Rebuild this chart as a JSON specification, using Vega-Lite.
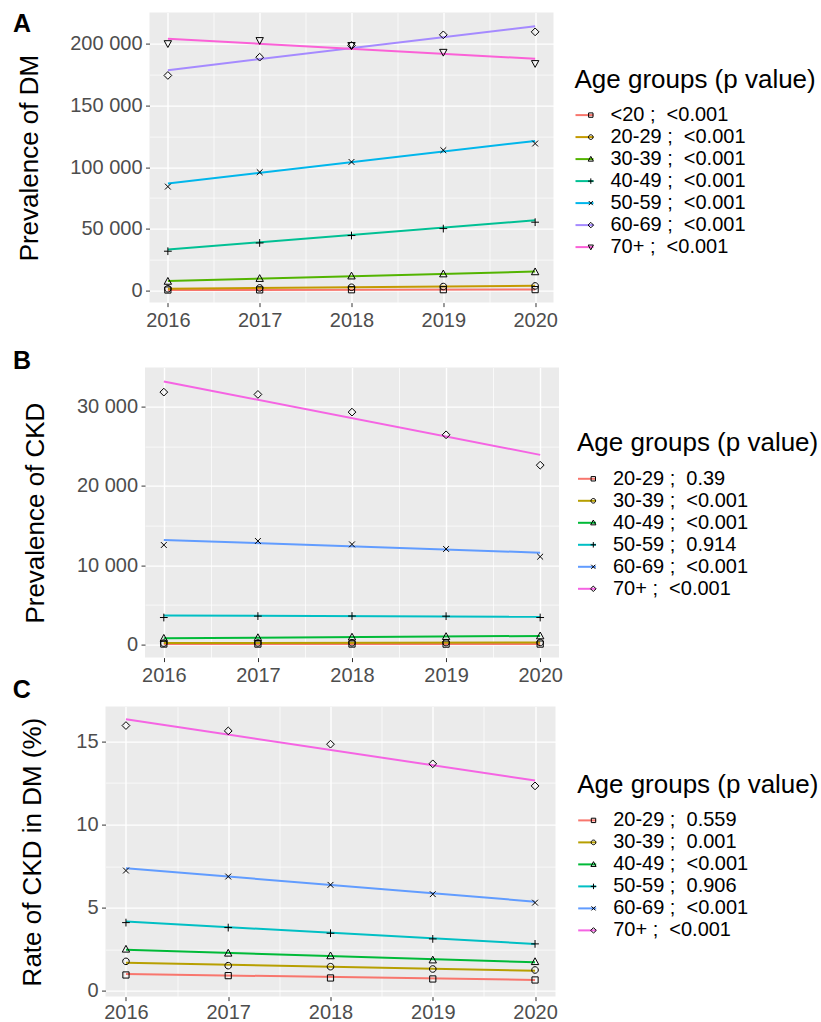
{
  "$schema": "https://vega.github.io/schema/vega-lite/v6.json",
  "padding": {"left": 12.5, "top": 11.6, "right": 3, "bottom": 0},
  "spacing": -12,
  "resolve": {"scale": {"color": "independent", "shape": "independent"}},
  "config": {
    "font": "Liberation Sans",
    "view": {"stroke": null},
    "axis": {
      "labelFontSize": 20, "labelColor": "#4D4D4D", "labelFont": "Liberation Sans",
      "tickColor": "#333333", "tickSize": 4, "labelPadding": 3.5,
      "domain": false, "gridColor": "#FFFFFF", "gridWidth": 1.4,
      "titleFontSize": 26, "titleFontWeight": "normal", "titleColor": "#000000", "titleFont": "Liberation Sans",
      "titlePadding": 28, "labelFlush": false, "labelOverlap": false
    },
    "legend": {
      "titleFontSize": 26, "titleFontWeight": "normal", "titleColor": "#000000", "titleFont": "Liberation Sans",
      "titlePadding": 12.5, "labelFontSize": 20, "labelColor": "#000000", "labelFont": "Liberation Sans",
      "rowPadding": 2, "padding": 0, "labelLimit": 400, "titleLimit": 500, "labelOffset": 16
    },
    "title": {"fontSize": 25, "fontWeight": "bold", "color": "#000000", "font": "Liberation Sans", "anchor": "start", "frame": "group", "baseline": "alphabetic"}
  },
  "datasets": {
    "A_pts": [
      {"age": "<20", "year": 2016, "value": 500}, {"age": "<20", "year": 2017, "value": 600}, {"age": "<20", "year": 2018, "value": 700}, {"age": "<20", "year": 2019, "value": 750}, {"age": "<20", "year": 2020, "value": 800},
      {"age": "20-29", "year": 2016, "value": 1500}, {"age": "20-29", "year": 2017, "value": 2200}, {"age": "20-29", "year": 2018, "value": 2700}, {"age": "20-29", "year": 2019, "value": 3300}, {"age": "20-29", "year": 2020, "value": 3800},
      {"age": "30-39", "year": 2016, "value": 7500}, {"age": "30-39", "year": 2017, "value": 9800}, {"age": "30-39", "year": 2018, "value": 11800}, {"age": "30-39", "year": 2019, "value": 13500}, {"age": "30-39", "year": 2020, "value": 15200},
      {"age": "40-49", "year": 2016, "value": 31900}, {"age": "40-49", "year": 2017, "value": 38600}, {"age": "40-49", "year": 2018, "value": 44600}, {"age": "40-49", "year": 2019, "value": 50200}, {"age": "40-49", "year": 2020, "value": 55400},
      {"age": "50-59", "year": 2016, "value": 84200}, {"age": "50-59", "year": 2017, "value": 95900}, {"age": "50-59", "year": 2018, "value": 104200}, {"age": "50-59", "year": 2019, "value": 113700}, {"age": "50-59", "year": 2020, "value": 119100},
      {"age": "60-69", "year": 2016, "value": 174200}, {"age": "60-69", "year": 2017, "value": 189000}, {"age": "60-69", "year": 2018, "value": 198500}, {"age": "60-69", "year": 2019, "value": 207100}, {"age": "60-69", "year": 2020, "value": 209500},
      {"age": "70+", "year": 2016, "value": 200000}, {"age": "70+", "year": 2017, "value": 202500}, {"age": "70+", "year": 2018, "value": 198500}, {"age": "70+", "year": 2019, "value": 193000}, {"age": "70+", "year": 2020, "value": 183900}
    ],
    "A_fit": [
      {"label": "<20 ;\u00a0 <0.001", "year": 2016, "fit": 520}, {"label": "<20 ;\u00a0 <0.001", "year": 2020, "fit": 830},
      {"label": "20-29 ;\u00a0 <0.001", "year": 2016, "fit": 1600}, {"label": "20-29 ;\u00a0 <0.001", "year": 2020, "fit": 3900},
      {"label": "30-39 ;\u00a0 <0.001", "year": 2016, "fit": 7700}, {"label": "30-39 ;\u00a0 <0.001", "year": 2020, "fit": 15500},
      {"label": "40-49 ;\u00a0 <0.001", "year": 2016, "fit": 33200}, {"label": "40-49 ;\u00a0 <0.001", "year": 2020, "fit": 57000},
      {"label": "50-59 ;\u00a0 <0.001", "year": 2016, "fit": 86700}, {"label": "50-59 ;\u00a0 <0.001", "year": 2020, "fit": 121200},
      {"label": "60-69 ;\u00a0 <0.001", "year": 2016, "fit": 178500}, {"label": "60-69 ;\u00a0 <0.001", "year": 2020, "fit": 214100},
      {"label": "70+ ;\u00a0 <0.001", "year": 2016, "fit": 203900}, {"label": "70+ ;\u00a0 <0.001", "year": 2020, "fit": 187700}
    ],
    "B_pts": [
      {"age": "20-29", "year": 2016, "value": 60}, {"age": "20-29", "year": 2017, "value": 55}, {"age": "20-29", "year": 2018, "value": 60}, {"age": "20-29", "year": 2019, "value": 50}, {"age": "20-29", "year": 2020, "value": 55},
      {"age": "30-39", "year": 2016, "value": 180}, {"age": "30-39", "year": 2017, "value": 200}, {"age": "30-39", "year": 2018, "value": 220}, {"age": "30-39", "year": 2019, "value": 240}, {"age": "30-39", "year": 2020, "value": 260},
      {"age": "40-49", "year": 2016, "value": 780}, {"age": "40-49", "year": 2017, "value": 860}, {"age": "40-49", "year": 2018, "value": 930}, {"age": "40-49", "year": 2019, "value": 1000}, {"age": "40-49", "year": 2020, "value": 1080},
      {"age": "50-59", "year": 2016, "value": 3400}, {"age": "50-59", "year": 2017, "value": 3580}, {"age": "50-59", "year": 2018, "value": 3590}, {"age": "50-59", "year": 2019, "value": 3570}, {"age": "50-59", "year": 2020, "value": 3400},
      {"age": "60-69", "year": 2016, "value": 12540}, {"age": "60-69", "year": 2017, "value": 13050}, {"age": "60-69", "year": 2018, "value": 12620}, {"age": "60-69", "year": 2019, "value": 12040}, {"age": "60-69", "year": 2020, "value": 11070},
      {"age": "70+", "year": 2016, "value": 31810}, {"age": "70+", "year": 2017, "value": 31520}, {"age": "70+", "year": 2018, "value": 29290}, {"age": "70+", "year": 2019, "value": 26430}, {"age": "70+", "year": 2020, "value": 22600}
    ],
    "B_fit": [
      {"label": "20-29 ;\u00a0 0.39", "year": 2016, "fit": 60}, {"label": "20-29 ;\u00a0 0.39", "year": 2020, "fit": 52},
      {"label": "30-39 ;\u00a0 <0.001", "year": 2016, "fit": 180}, {"label": "30-39 ;\u00a0 <0.001", "year": 2020, "fit": 260},
      {"label": "40-49 ;\u00a0 <0.001", "year": 2016, "fit": 790}, {"label": "40-49 ;\u00a0 <0.001", "year": 2020, "fit": 1080},
      {"label": "50-59 ;\u00a0 0.914", "year": 2016, "fit": 3650}, {"label": "50-59 ;\u00a0 0.914", "year": 2020, "fit": 3500},
      {"label": "60-69 ;\u00a0 <0.001", "year": 2016, "fit": 13170}, {"label": "60-69 ;\u00a0 <0.001", "year": 2020, "fit": 11570},
      {"label": "70+ ;\u00a0 <0.001", "year": 2016, "fit": 33160}, {"label": "70+ ;\u00a0 <0.001", "year": 2020, "fit": 23900}
    ],
    "C_pts": [
      {"age": "20-29", "year": 2016, "value": 0.96}, {"age": "20-29", "year": 2017, "value": 0.92}, {"age": "20-29", "year": 2018, "value": 0.78}, {"age": "20-29", "year": 2019, "value": 0.72}, {"age": "20-29", "year": 2020, "value": 0.66},
      {"age": "30-39", "year": 2016, "value": 1.78}, {"age": "30-39", "year": 2017, "value": 1.52}, {"age": "30-39", "year": 2018, "value": 1.46}, {"age": "30-39", "year": 2019, "value": 1.32}, {"age": "30-39", "year": 2020, "value": 1.26},
      {"age": "40-49", "year": 2016, "value": 2.51}, {"age": "40-49", "year": 2017, "value": 2.27}, {"age": "40-49", "year": 2018, "value": 2.11}, {"age": "40-49", "year": 2019, "value": 1.86}, {"age": "40-49", "year": 2020, "value": 1.76},
      {"age": "50-59", "year": 2016, "value": 4.11}, {"age": "50-59", "year": 2017, "value": 3.81}, {"age": "50-59", "year": 2018, "value": 3.47}, {"age": "50-59", "year": 2019, "value": 3.13}, {"age": "50-59", "year": 2020, "value": 2.83},
      {"age": "60-69", "year": 2016, "value": 7.24}, {"age": "60-69", "year": 2017, "value": 6.88}, {"age": "60-69", "year": 2018, "value": 6.38}, {"age": "60-69", "year": 2019, "value": 5.82}, {"age": "60-69", "year": 2020, "value": 5.31},
      {"age": "70+", "year": 2016, "value": 15.96}, {"age": "70+", "year": 2017, "value": 15.64}, {"age": "70+", "year": 2018, "value": 14.84}, {"age": "70+", "year": 2019, "value": 13.66}, {"age": "70+", "year": 2020, "value": 12.33}
    ],
    "C_fit": [
      {"label": "20-29 ;\u00a0 0.559", "year": 2016, "fit": 1.02}, {"label": "20-29 ;\u00a0 0.559", "year": 2020, "fit": 0.66},
      {"label": "30-39 ;\u00a0 0.001", "year": 2016, "fit": 1.70}, {"label": "30-39 ;\u00a0 0.001", "year": 2020, "fit": 1.22},
      {"label": "40-49 ;\u00a0 <0.001", "year": 2016, "fit": 2.47}, {"label": "40-49 ;\u00a0 <0.001", "year": 2020, "fit": 1.72},
      {"label": "50-59 ;\u00a0 0.906", "year": 2016, "fit": 4.17}, {"label": "50-59 ;\u00a0 0.906", "year": 2020, "fit": 2.83},
      {"label": "60-69 ;\u00a0 <0.001", "year": 2016, "fit": 7.38}, {"label": "60-69 ;\u00a0 <0.001", "year": 2020, "fit": 5.37},
      {"label": "70+ ;\u00a0 <0.001", "year": 2016, "fit": 16.34}, {"label": "70+ ;\u00a0 <0.001", "year": 2020, "fit": 12.65}
    ],
    "blank": [{"t": ""}]
  },
  "vconcat": [
    {
      "hconcat": [
        {"width": 1, "height": 348, "data": {"name": "blank"}, "mark": {"type": "text"}, "encoding": {"text": {"field": "t"}}, "view": {"stroke": null, "fill": null}},
        {
          "width": 404, "height": 290,
          "view": {"fill": "#EBEBEB", "stroke": null},
          "title": {"text": "A", "dx": -136.5, "offset": -24.5},
          "resolve": {"axis": {"x": "independent", "y": "independent"}},
          "layer": [
            {
              "data": {"name": "A_fit"},
              "mark": {"type": "line", "strokeWidth": 2},
              "encoding": {
                "x": {"field": "year", "type": "quantitative", "scale": {"domain": [2015.8, 2020.2], "nice": false, "zero": false},
                      "axis": {"values": [2016, 2017, 2018, 2019, 2020], "format": "d", "title": null, "grid": true, "orient": "bottom"}},
                "y": {"field": "fit", "type": "quantitative", "scale": {"domain": [-9700, 225100], "nice": false, "zero": false},
                      "axis": {"values": [0, 50000, 100000, 150000, 200000], "labelExpr": "replace(format(datum.value, ','), ',', ' ')", "title": "Prevalence of DM", "titlePadding": 27, "grid": true, "orient": "left"}},
                "color": {"field": "label", "type": "nominal",
                          "scale": {"domain": ["<20 ;\u00a0 <0.001", "20-29 ;\u00a0 <0.001", "30-39 ;\u00a0 <0.001", "40-49 ;\u00a0 <0.001", "50-59 ;\u00a0 <0.001", "60-69 ;\u00a0 <0.001", "70+ ;\u00a0 <0.001"],
                                    "range": ["#F8766D", "#C49A00", "#53B400", "#00C094", "#00B6EB", "#A58AFF", "#FB61D7"]},
                          "legend": {"orient": "none", "legendX": 425, "legendY": 54, "title": "Age groups (p value)", "symbolType": "stroke", "symbolSize": 324, "symbolStrokeWidth": 2}}
              }
            },
            {
              "data": {"name": "A_pts"},
              "mark": {"type": "point", "filled": false, "color": "#000000", "strokeWidth": 1, "size": 60, "opacity": 1},
              "encoding": {
                "x": {"field": "year", "type": "quantitative",
                      "axis": {"values": [2016.5, 2017.5, 2018.5, 2019.5], "labels": false, "ticks": false, "domain": false, "title": null, "grid": true, "gridWidth": 0.7, "orient": "bottom"}},
                "y": {"field": "value", "type": "quantitative",
                      "axis": {"values": [25000, 75000, 125000, 175000], "labels": false, "ticks": false, "domain": false, "title": null, "grid": true, "gridWidth": 0.7, "orient": "left"}},
                "shape": {"field": "age", "type": "nominal",
                          "scale": {"domain": ["<20", "20-29", "30-39", "40-49", "50-59", "60-69", "70+"],
                                    "range": ["M-0.8,-0.8H0.8V0.8H-0.8Z", "M0.85,0A0.85,0.85,0,1,1,-0.85,0A0.85,0.85,0,1,1,0.85,0Z", "M0,-1L0.95,0.75H-0.95Z", "M-1,0H1M0,-1V1", "M-0.75,-0.75L0.75,0.75M-0.75,0.75L0.75,-0.75", "M0,-1L1,0L0,1L-1,0Z", "M0,1L0.95,-0.75H-0.95Z"]},
                          "legend": {"orient": "none", "legendX": 431.3, "legendY": 54, "title": "\u00a0", "titleOpacity": 0, "labelExpr": "' '", "labelOpacity": 0, "symbolSize": 30, "symbolStrokeWidth": 1, "symbolStrokeColor": "#000000"}}
              }
            }
          ]
        }
      ],
      "spacing": 43,
      "bounds": "flush",
      "resolve": {"scale": {"color": "independent", "shape": "independent"}}
    },
    {
      "hconcat": [
        {"width": 1, "height": 321.5, "data": {"name": "blank"}, "mark": {"type": "text"}, "encoding": {"text": {"field": "t"}}, "view": {"stroke": null, "fill": null}},
        {
          "width": 414, "height": 290,
          "view": {"fill": "#EBEBEB", "stroke": null},
          "title": {"text": "B", "dx": -132, "offset": -6.4},
          "resolve": {"axis": {"x": "independent", "y": "independent"}},
          "layer": [
            {
              "data": {"name": "B_fit"},
              "mark": {"type": "line", "strokeWidth": 2},
              "encoding": {
                "x": {"field": "year", "type": "quantitative", "scale": {"domain": [2015.8, 2020.2], "nice": false, "zero": false},
                      "axis": {"values": [2016, 2017, 2018, 2019, 2020], "format": "d", "title": null, "grid": true, "orient": "bottom"}},
                "y": {"field": "fit", "type": "quantitative", "scale": {"domain": [-1650, 34900], "nice": false, "zero": false},
                      "axis": {"values": [0, 10000, 20000, 30000], "labelExpr": "replace(format(datum.value, ','), ',', ' ')", "title": "Prevalence of CKD", "titlePadding": 28, "grid": true, "orient": "left"}},
                "color": {"field": "label", "type": "nominal",
                          "scale": {"domain": ["20-29 ;\u00a0 0.39", "30-39 ;\u00a0 <0.001", "40-49 ;\u00a0 <0.001", "50-59 ;\u00a0 0.914", "60-69 ;\u00a0 <0.001", "70+ ;\u00a0 <0.001"],
                                    "range": ["#F8766D", "#B79F00", "#00BA38", "#00BFC4", "#619CFF", "#F564E3"]},
                          "legend": {"orient": "none", "legendX": 432, "legendY": 62.7, "title": "Age groups (p value)", "symbolType": "stroke", "symbolSize": 324, "symbolStrokeWidth": 2}}
              }
            },
            {
              "data": {"name": "B_pts"},
              "mark": {"type": "point", "filled": false, "color": "#000000", "strokeWidth": 1, "size": 60, "opacity": 1},
              "encoding": {
                "x": {"field": "year", "type": "quantitative",
                      "axis": {"values": [2016.5, 2017.5, 2018.5, 2019.5], "labels": false, "ticks": false, "domain": false, "title": null, "grid": true, "gridWidth": 0.7, "orient": "bottom"}},
                "y": {"field": "value", "type": "quantitative",
                      "axis": {"values": [5000, 15000, 25000], "labels": false, "ticks": false, "domain": false, "title": null, "grid": true, "gridWidth": 0.7, "orient": "left"}},
                "shape": {"field": "age", "type": "nominal",
                          "scale": {"domain": ["20-29", "30-39", "40-49", "50-59", "60-69", "70+"],
                                    "range": ["M-0.8,-0.8H0.8V0.8H-0.8Z", "M0.85,0A0.85,0.85,0,1,1,-0.85,0A0.85,0.85,0,1,1,0.85,0Z", "M0,-1L0.95,0.75H-0.95Z", "M-1,0H1M0,-1V1", "M-0.75,-0.75L0.75,0.75M-0.75,0.75L0.75,-0.75", "M0,-1L1,0L0,1L-1,0Z"]},
                          "legend": {"orient": "none", "legendX": 438.3, "legendY": 62.7, "title": "\u00a0", "titleOpacity": 0, "labelExpr": "' '", "labelOpacity": 0, "symbolSize": 30, "symbolStrokeWidth": 1, "symbolStrokeColor": "#000000"}}
              }
            }
          ]
        }
      ],
      "spacing": 38.5,
      "bounds": "flush",
      "resolve": {"scale": {"color": "independent", "shape": "independent"}}
    },
    {
      "width": 450, "height": 290,
      "view": {"fill": "#EBEBEB", "stroke": null},
      "title": {"text": "C", "dx": -92.8, "offset": 3.8},
      "resolve": {"axis": {"x": "independent", "y": "independent"}},
      "layer": [
        {
          "data": {"name": "C_fit"},
          "mark": {"type": "line", "strokeWidth": 2},
          "encoding": {
            "x": {"field": "year", "type": "quantitative", "scale": {"domain": [2015.8, 2020.2], "nice": false, "zero": false},
                  "axis": {"values": [2016, 2017, 2018, 2019, 2020], "format": "d", "title": null, "grid": true, "orient": "bottom", "labelPadding": 1.5}},
            "y": {"field": "fit", "type": "quantitative", "scale": {"domain": [-0.34, 17.1], "nice": false, "zero": false},
                  "axis": {"values": [0, 5, 10, 15], "format": "d", "title": "Rate of CKD in DM (%)", "titlePadding": 30, "grid": true, "orient": "left"}},
            "color": {"field": "label", "type": "nominal",
                      "scale": {"domain": ["20-29 ;\u00a0 0.559", "30-39 ;\u00a0 0.001", "40-49 ;\u00a0 <0.001", "50-59 ;\u00a0 0.906", "60-69 ;\u00a0 <0.001", "70+ ;\u00a0 <0.001"],
                                "range": ["#F8766D", "#B79F00", "#00BA38", "#00BFC4", "#619CFF", "#F564E3"]},
                      "legend": {"orient": "none", "legendX": 471.7, "legendY": 65.3, "title": "Age groups (p value)", "symbolType": "stroke", "symbolSize": 324, "symbolStrokeWidth": 2}}
          }
        },
        {
          "data": {"name": "C_pts"},
          "mark": {"type": "point", "filled": false, "color": "#000000", "strokeWidth": 1, "size": 60, "opacity": 1},
          "encoding": {
            "x": {"field": "year", "type": "quantitative",
                  "axis": {"values": [2016.5, 2017.5, 2018.5, 2019.5], "labels": false, "ticks": false, "domain": false, "title": null, "grid": true, "gridWidth": 0.7, "orient": "bottom"}},
            "y": {"field": "value", "type": "quantitative",
                  "axis": {"values": [2.5, 7.5, 12.5], "labels": false, "ticks": false, "domain": false, "title": null, "grid": true, "gridWidth": 0.7, "orient": "left"}},
            "shape": {"field": "age", "type": "nominal",
                      "scale": {"domain": ["20-29", "30-39", "40-49", "50-59", "60-69", "70+"],
                                "range": ["M-0.8,-0.8H0.8V0.8H-0.8Z", "M0.85,0A0.85,0.85,0,1,1,-0.85,0A0.85,0.85,0,1,1,0.85,0Z", "M0,-1L0.95,0.75H-0.95Z", "M-1,0H1M0,-1V1", "M-0.75,-0.75L0.75,0.75M-0.75,0.75L0.75,-0.75", "M0,-1L1,0L0,1L-1,0Z"]},
                      "legend": {"orient": "none", "legendX": 478, "legendY": 65.3, "title": "\u00a0", "titleOpacity": 0, "labelExpr": "' '", "labelOpacity": 0, "symbolSize": 30, "symbolStrokeWidth": 1, "symbolStrokeColor": "#000000"}}
          }
        }
      ]
    }
  ]
}
